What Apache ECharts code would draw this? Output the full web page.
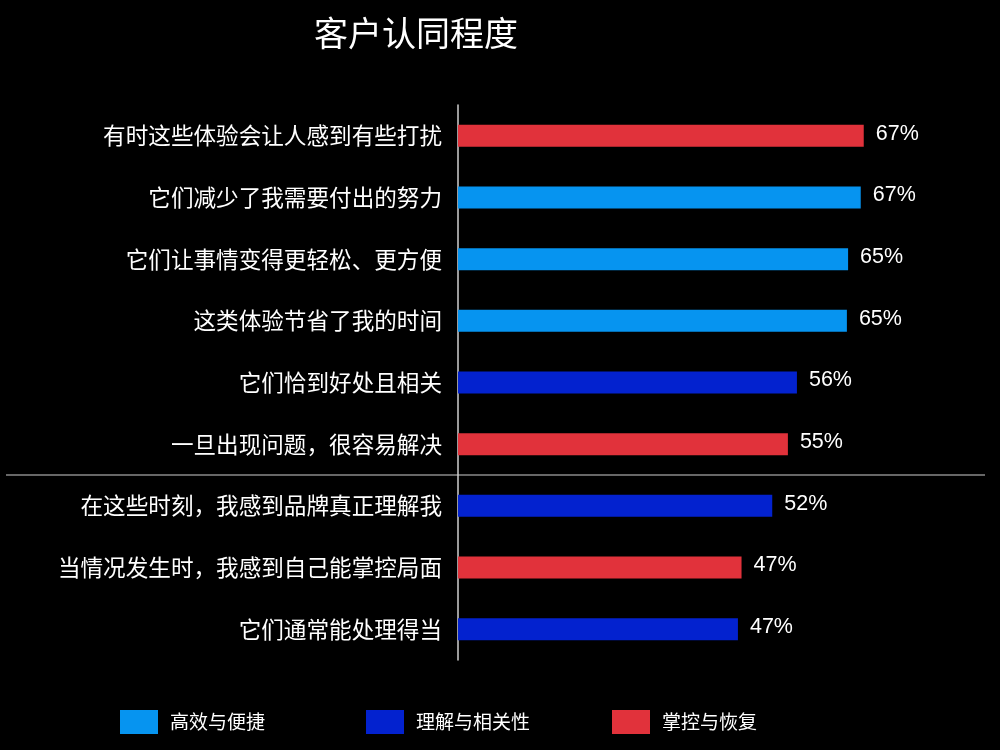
<!DOCTYPE html>
<html lang="zh-CN">
<head>
<meta charset="utf-8">
<title>客户认同程度</title>
<script src="https://cdn.jsdelivr.net/npm/echarts@6/dist/echarts.min.js"></script>
<style>
    html, body { margin: 0; padding: 0; background: #000; }
    #agreeChart { width: 1000px; height: 750px; }
</style>
</head>
<body>
<div id="agreeChart"></div>
<script>
// 항목 (위에서 아래 순서)
const categories = [
    '有时这些体验会让人感到有些打扰',
    '它们减少了我需要付出的努力',
    '它们让事情变得更轻松、更方便',
    '这类体验节省了我的时间',
    '它们恰到好处且相关',
    '一旦出现问题，很容易解决',
    '在这些时刻，我感到品牌真正理解我',
    '当情况发生时，我感到自己能掌控局面',
    '它们通常能处理得当'
];
// 막대 길이에서 읽은 값 (라벨은 반올림 표시)
const values = [67.4, 66.9, 64.8, 64.6, 56.3, 54.8, 52.2, 47.1, 46.5];
// 각 항목의 분류
const groups = [
    '掌控与恢复', '高效与便捷', '高效与便捷', '高效与便捷', '理解与相关性',
    '掌控与恢复', '理解与相关性', '掌控与恢复', '理解与相关性'
];
const groupNames = ['高效与便捷', '理解与相关性', '掌控与恢复'];
const groupColors = ['#0694F0', '#0322CF', '#E1323B'];
// 구분선 위치 (이 인덱스 앞)
const splitIndex = 6;

const cjkFont = '"Noto Sans CJK SC", "Noto Sans", sans-serif';

const drawChart = () => {
    var chartDom = document.getElementById('agreeChart');
    var myChart = echarts.init(chartDom);

    const series = groupNames.map((name, gi) => ({
        name: name,
        type: 'bar',
        stack: 'all',
        barWidth: 22,
        data: values.map((v, i) => groups[i] === name ? v : null),
        itemStyle: { color: groupColors[gi] },
        label: {
            show: true,
            position: 'right',
            distance: 12,
            offset: [0, -2],
            color: '#fff',
            fontSize: 21.5,
            fontFamily: '"Liberation Sans", Arial, sans-serif',
            formatter: p => Math.round(p.value) + '%'
        }
    }));

    // 범례는 항목별로 위치 지정
    const legendLeft = [120, 366, 612];
    const legends = groupNames.map((name, gi) => ({
        data: [name],
        left: legendLeft[gi],
        top: 710,
        padding: 0,
        icon: 'rect',
        itemWidth: 38,
        itemHeight: 24,
        selectedMode: false,
        textStyle: {
            color: '#fff',
            fontSize: 19,
            fontFamily: cjkFont,
            padding: [0, 0, 0, 7]
        }
    }));

    myChart.setOption({
        backgroundColor: '#000',
        animation: false,
        title: {
            text: '客户认同程度',
            left: 309,
            top: 11,
            textStyle: {
                color: '#fff',
                fontSize: 34,
                fontWeight: 'normal',
                fontFamily: cjkFont
            }
        },
        legend: legends,
        grid: {
            left: 458, top: 105, width: 481.6, height: 555
        },
        xAxis: {
            type: 'value',
            min: 0,
            max: 80,
            show: false
        },
        yAxis: {
            type: 'category',
            inverse: true,
            data: categories,
            axisLine: { show: true, lineStyle: { color: '#cfcfcf', width: 1.5 } },
            axisTick: { show: false },
            axisLabel: {
                color: '#fff',
                fontSize: 22.6,
                margin: 16,
                fontFamily: cjkFont
            },
            splitLine: { show: false }
        },
        series: series
    });

    // 그룹 구분선 (좌우 전체 폭)
    const y1 = myChart.convertToPixel({ yAxisIndex: 0 }, categories[splitIndex - 1]);
    const y2 = myChart.convertToPixel({ yAxisIndex: 0 }, categories[splitIndex]);
    const ySplit = (y1 + y2) / 2;
    myChart.setOption({
        graphic: [{
            type: 'line',
            shape: { x1: 6, y1: ySplit, x2: 985, y2: ySplit },
            style: { stroke: '#8a8a8a', lineWidth: 1.5 },
            silent: true
        }]
    });
};

drawChart();
</script>
</body>
</html>
